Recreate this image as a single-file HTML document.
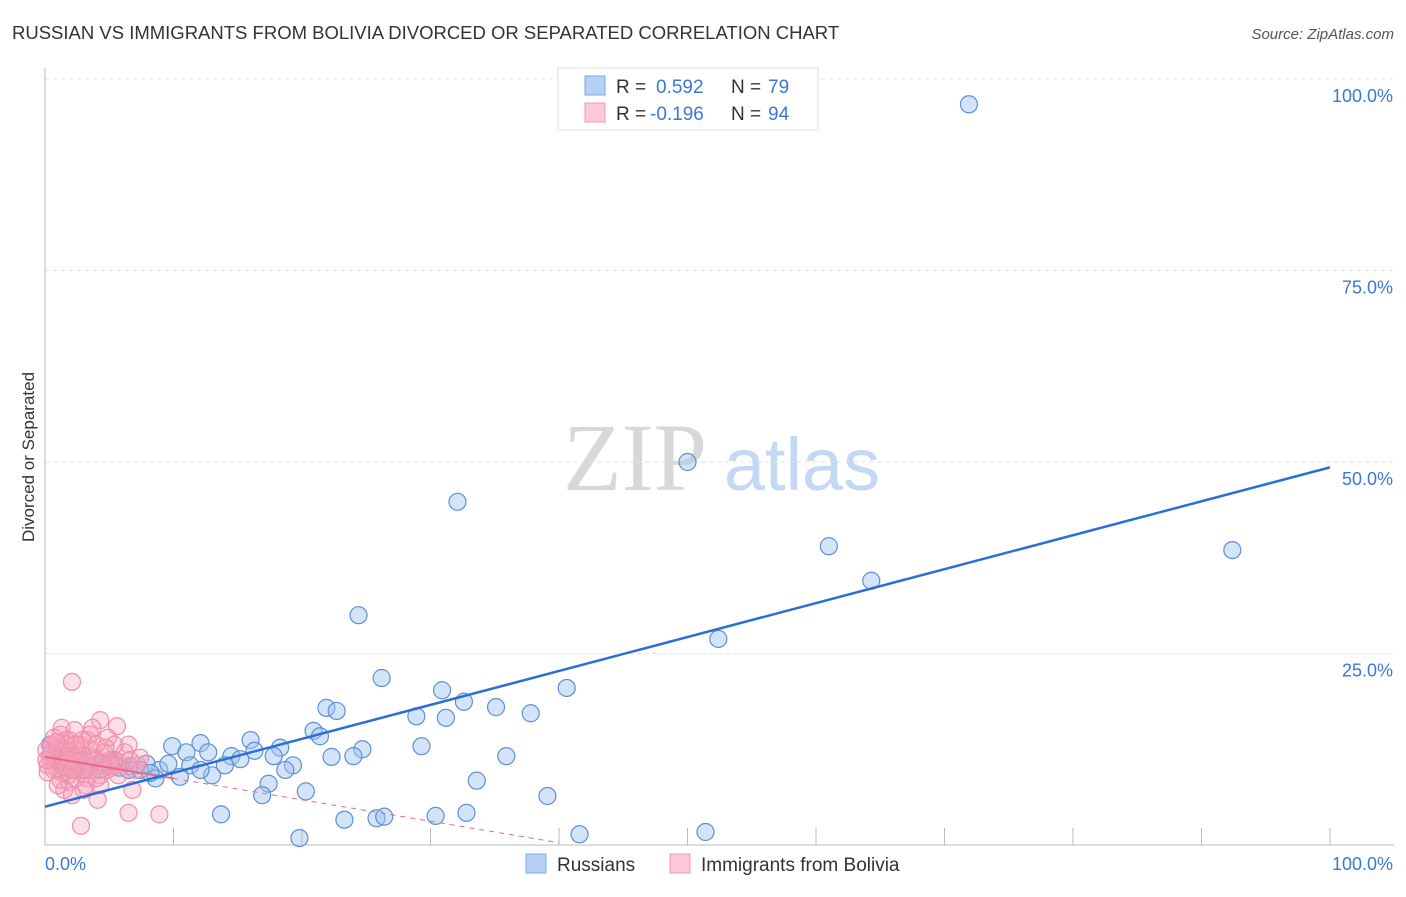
<!DOCTYPE html>
<html><head><meta charset="utf-8"><style>
body{margin:0;background:#fff;width:1406px;height:892px;overflow:hidden;font-family:"Liberation Sans",sans-serif}
</style></head><body>
<svg id="chart" width="1406" height="892" xmlns="http://www.w3.org/2000/svg" font-family="Liberation Sans, sans-serif">
<text x="12" y="39" font-size="18.5" fill="#333">RUSSIAN VS IMMIGRANTS FROM BOLIVIA DIVORCED OR SEPARATED CORRELATION CHART</text>
<text x="1394" y="39" font-size="15" fill="#555" font-style="italic" text-anchor="end">Source: ZipAtlas.com</text>
<text transform="translate(34,457) rotate(-90)" font-size="17" fill="#333" text-anchor="middle">Divorced or Separated</text>
<g>
<text x="635" y="490" font-size="96" font-family="Liberation Serif, serif" fill="#d8d8d8" text-anchor="middle">ZIP</text>
<text x="802" y="490" font-size="74" fill="#c5d8f3" text-anchor="middle">atlas</text>
</g>
<g id="grid"></g><g id="axes"></g><g id="blue"></g><g id="pink"></g><g id="trends"></g>
<g>
<rect x="558" y="68" width="260" height="62" fill="#fff" stroke="#ddd"/>
<rect x="585" y="76" width="20" height="19" fill="#b7d1f5" stroke="#7ea8e4"/>
<rect x="585" y="103" width="20" height="19" fill="#fcc9d6" stroke="#f09ab2"/>
<text x="616" y="93" font-size="19" fill="#333">R = </text><text x="656" y="93" font-size="19" fill="#3a78d8">0.592</text>
<text x="731" y="93" font-size="19" fill="#333">N = </text><text x="768" y="93" font-size="19" fill="#3a78d8">79</text>
<text x="616" y="120" font-size="19" fill="#333">R = </text><text x="650" y="120" font-size="19" fill="#3a78d8">-0.196</text>
<text x="731" y="120" font-size="19" fill="#333">N = </text><text x="768" y="120" font-size="19" fill="#3a78d8">94</text>
</g>
<g>
<rect x="526" y="854" width="20" height="19" fill="#b7d1f5" stroke="#7ea8e4"/>
<text x="557" y="871" font-size="19" fill="#333">Russians</text>
<rect x="670" y="854" width="20" height="19" fill="#fcc9d6" stroke="#f09ab2"/>
<text x="701" y="871" font-size="19" fill="#333">Immigrants from Bolivia</text>
</g>
</svg>
<script>
const yTicks=[25,50,75,100];
const yTickLabels=["25.0%","50.0%","75.0%","100.0%"];
const xTicks=[0,10,20,30,40,50,60,70,80,90,100];
const blueX=[71.9,50.0,32.1,61.0,92.4,64.3,24.4,52.4,26.2,40.6,30.9,32.6,21.9,22.7,35.1,37.8,28.9,31.2,20.9,21.4,16.0,12.1,9.9,12.7,11.0,18.3,14.5,15.2,16.3,17.8,24.7,22.3,24.0,29.3,35.9,19.3,18.7,11.3,13.0,14.0,8.9,9.6,7.9,6.6,5.8,5.1,4.3,3.5,2.7,1.9,1.2,0.4,0.8,10.5,8.6,6.5,33.6,17.4,16.9,20.3,39.1,13.7,23.3,25.8,26.4,30.4,32.8,19.8,41.6,51.4,7.4,8.2,4.3,5.4,2.3,1.6,3.1,3.9,12.1];
const blueY=[96.7,50.0,44.8,39.0,38.5,34.5,30.0,26.9,21.8,20.5,20.2,18.7,17.9,17.5,18.0,17.2,16.8,16.6,14.9,14.2,13.7,13.3,12.9,12.1,12.1,12.7,11.6,11.2,12.3,11.6,12.5,11.5,11.6,12.9,11.6,10.4,9.8,10.4,9.1,10.4,9.8,10.6,10.6,10.3,10.1,10.8,10.4,10.3,11.1,10.4,11.1,13.1,11.7,8.9,8.7,9.8,8.4,8.0,6.5,7.0,6.4,4.0,3.3,3.5,3.7,3.8,4.2,0.9,1.4,1.7,9.8,9.4,9.8,11.1,9.8,12.4,9.8,11.1,9.8];
const pinkX=[2.1,4.3,5.6,2.3,3.5,1.6,2.7,6.5,1.2,1.9,0.4,0.8,1.3,3.1,3.9,5.1,2.6,1.8,3.3,4.3,1.0,0.5,0.9,1.6,2.3,2.9,3.7,4.6,5.2,5.8,7.4,7.0,3.2,1.9,1.2,4.1,6.8,6.5,8.9,2.8,0.2,0.7,1.3,2.4,3.0,1.5,2.1,0.9,1.7,2.5,3.3,4.0,4.8,5.6,6.2,0.4,1.2,1.9,2.7,3.5,4.3,5.1,0.1,0.7,1.3,3.7,4.9,5.4,0.2,1.0,1.6,2.3,2.9,3.8,4.4,0.5,1.5,2.6,3.3,0.9,4.0,4.7,5.7,6.6,7.2,0.1,2.4,3.0,1.8,2.1];
const pinkY=[21.3,16.3,15.5,15.0,14.4,13.7,13.1,13.1,12.4,12.1,11.7,11.1,10.4,11.1,10.4,11.1,9.8,9.1,8.7,9.1,9.8,13.1,12.7,11.4,10.8,11.7,12.4,12.1,10.1,10.8,11.4,9.8,7.8,8.2,8.5,5.9,7.2,4.2,4.0,2.5,10.4,9.8,9.5,8.7,7.2,7.2,6.5,11.4,13.1,12.4,13.7,13.1,9.8,10.4,12.1,11.1,14.4,13.7,10.4,9.8,7.8,10.4,12.4,14.0,15.3,15.3,14.0,13.1,9.5,7.8,10.1,11.4,13.7,11.4,10.8,12.1,10.8,10.8,10.8,13.4,8.7,12.7,9.1,11.1,10.4,11.1,13.1,9.8,11.1,9.8];
const blueTrend=[5.0,49.3];
const pinkTrend=[11.5,-0.28];
const X0=45,X1=1330,Y0=845,Y100=79;
const sx=v=>X0+(X1-X0)*v/100, sy=v=>Y0-(Y0-Y100)*v/100;
const NS="http://www.w3.org/2000/svg";
function mk(tag,attrs,parent){const e=document.createElementNS(NS,tag);for(const k in attrs)e.setAttribute(k,attrs[k]);document.getElementById(parent).appendChild(e);return e;}
yTicks.forEach((t,i)=>{
 const g=mk('line',{x1:X0,x2:X1+64,y1:sy(t),y2:sy(t),stroke:'#e2e2e2','stroke-dasharray':'4,4'},'grid');
 
 
 const l=mk('text',{x:1393,y:sy(t)+23,'font-size':18,fill:'#3a78d8','text-anchor':'end'},'grid');
 l.textContent=yTickLabels[i];
 
 
});
const ax=mk('path',{d:`M${X0} 68 V${Y0} H${X1+64}`,stroke:'#bbb',fill:'none'},'axes');


xTicks.forEach(t=>{
 const l=mk('line',{x1:sx(t),x2:sx(t),y1:Y0,y2:Y0-17,stroke:'#bbb'},'axes');
 
 
});
const xl0=mk('text',{x:45,y:870,'font-size':18,fill:'#3a78d8'},'axes');xl0.textContent='0.0%';


const xl1=mk('text',{x:1393,y:870,'font-size':18,fill:'#3a78d8','text-anchor':'end'},'axes');xl1.textContent='100.0%';


blueX.forEach((v,i)=>{
 const c=mk('circle',{cx:sx(v),cy:sy(blueY[i]),r:8.5,fill:'rgba(160,196,240,0.45)',stroke:'#5d90d8','stroke-width':1.2},'blue');
 
 
});
pinkX.forEach((v,i)=>{
 const c=mk('circle',{cx:sx(v),cy:sy(pinkY[i]),r:8.5,fill:'rgba(246,160,185,0.35)',stroke:'#ef8fab','stroke-width':1.2},'pink');
 
 
});
const pt=x=>pinkTrend[0]+pinkTrend[1]*x;
const p1=mk('line',{x1:sx(0),y1:sy(pt(0)),x2:sx(10),y2:sy(pt(10)),stroke:'#e9668e','stroke-width':2},'trends');


const p2=mk('line',{x1:sx(10),y1:sy(pt(10)),x2:sx(40),y2:sy(pt(40)),stroke:'#e9668e','stroke-width':1,'stroke-dasharray':'5,5'},'trends');


const b=mk('line',{x1:sx(0),y1:sy(blueTrend[0]),x2:sx(100),y2:sy(blueTrend[1]),stroke:'#2a6fd6','stroke-width':2.5},'trends');


</script>
</body></html>
